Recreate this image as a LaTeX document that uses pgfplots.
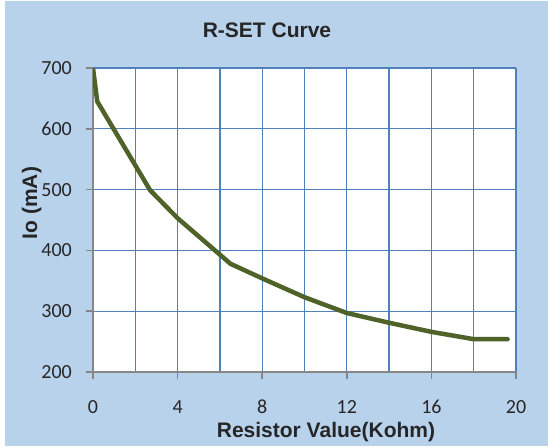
\documentclass[border=0pt]{standalone}
\usepackage{pgfplots}
\pgfplotsset{compat=1.18}
\usepackage{fontspec}
\setmainfont{Carlito}
\newfontfamily\arial{Liberation Sans}
\definecolor{bgblue}{RGB}{185,210,236}
\definecolor{gridblue}{RGB}{79,129,189}
\definecolor{axgray}{RGB}{134,134,134}
\definecolor{curve}{RGB}{79,98,40}
\definecolor{txt}{RGB}{38,38,38}
\begin{document}
\begin{tikzpicture}
\useasboundingbox (0,0) rectangle (548pt,447pt);
\fill[white] (0,0) rectangle (548pt,447pt);
\fill[bgblue] (5pt,1pt) rectangle (548pt,446pt);
\begin{axis}[
  at={(93pt,75pt)}, anchor=south west,
  scale only axis, width=423pt, height=304pt,
  xmin=0, xmax=20, ymin=200, ymax=700,
  xtick={0,4,...,20}, minor xtick={2,6,...,18},
  ytick={200,300,...,700},
  axis background/.style={fill=white},
  grid=both,
  major grid style={draw=gridblue, line width=1.3pt},
  minor grid style={draw=gridblue, line width=1.3pt},
  axis lines*=left,
  axis line style={-, draw=axgray, line width=1.6pt},
  tick align=outside,
  major tick length=7pt, minor tick length=0pt,
  tick style={draw=axgray, line width=1.6pt},
  /pgf/number format/assume math mode=true,
  ticklabel style={font=\fontsize{20}{24}\selectfont, text=txt},
  yticklabel style={inner sep=0pt, xshift=-14pt},
  xticklabel style={inner sep=0pt, yshift=-21pt},
  axis on top=false,
]
\addplot[curve, line width=4.5pt, line join=round, line cap=round] coordinates {
(0,700) (0.2,645) (2.7,499) (4,453) (6.5,378) (8,354) (10,323) (12,297) (14,281) (16,266) (18,254) (19.6,254)
};
\end{axis}
\node[anchor=base, text=txt, font=\arial\bfseries\fontsize{21}{25}\selectfont] at (267pt,409pt) {R-SET Curve};
\node[anchor=base, text=txt, font=\arial\bfseries\fontsize{21}{25}\selectfont] at (326pt,10pt) {Resistor Value(Kohm)};
\node[anchor=base, rotate=90, text=txt, font=\arial\bfseries\fontsize{21}{25}\selectfont] at (37pt,244pt) {Io (mA)};
\end{tikzpicture}
\end{document}
